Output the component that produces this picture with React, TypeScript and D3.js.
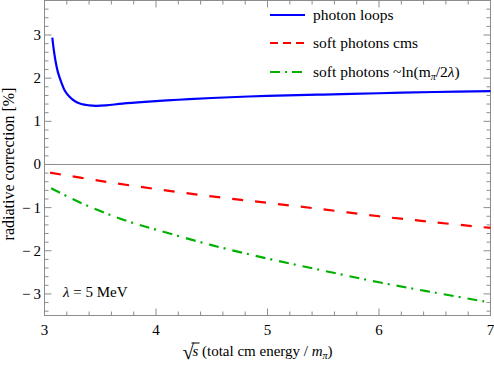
import React from "react";
import * as d3 from "d3";

const loopX = [3.07, 3.08, 3.1, 3.12, 3.15, 3.18, 3.22, 3.27, 3.33, 3.4, 3.46, 3.55, 3.7, 3.9, 4.2, 4.5, 5, 5.5, 6, 6.5, 7];
const loopY = [2.94, 2.72, 2.38, 2.14, 1.91, 1.72, 1.58, 1.47, 1.4, 1.37, 1.36, 1.37, 1.41, 1.45, 1.5, 1.54, 1.59, 1.62, 1.65, 1.68, 1.7];

const softX = [3.05, 3.5, 4, 4.5, 5, 5.5, 6, 6.5, 7];
const softY = [-0.19, -0.38, -0.57, -0.74, -0.89, -1.04, -1.2, -1.34, -1.47];

const lnX = [3.06, 3.25, 3.5, 3.75, 4, 4.5, 5, 5.5, 6, 6.5, 7];
const lnY = [-0.55, -0.8, -1.08, -1.32, -1.51, -1.87, -2.18, -2.46, -2.73, -2.97, -3.2];

const xTicks = [3, 4, 5, 6, 7];
const yTicks = [-3, -2, -1, 0, 1, 2, 3];

const W = 494, H = 368;
const L = 44.5, R = 490.5, T = 0.5, B = 315.5;
const FONT = "Liberation Serif, DejaVu Serif, serif";
const AX = "#8c8c8c";

export default function App() {
  const x = d3.scaleLinear().domain([3, 7]).range([L, R]);
  const y = d3.scaleLinear().domain([-3.5, 3.8]).range([B, T]);
  const line = (xs: number[], ys: number[]) =>
    d3.line<number>().x((_, i) => x(xs[i])).y((d) => y(d)).curve(d3.curveCatmullRom)(ys) || "";

  const xMinor = d3.range(3, 7.0001, 0.2).map((v) => +v.toFixed(2)).filter((v) => !xTicks.includes(v));
  const yMinor = d3.range(-3.4, 3.8001, 0.2).map((v) => +v.toFixed(2)).filter((v) => !yTicks.includes(v));

  const series = [
    { xs: loopX, ys: loopY, color: "#0000ff", dash: "" },
    { xs: softX, ys: softY, color: "#ff0000", dash: "11,12" },
    { xs: lnX, ys: lnY, color: "#00b000", dash: "10,5,2,7" },
  ];
  const legY = [15, 43, 72];
  const LF = 15.5;

  return (
    <svg width={W} height={H} style={{ position: "absolute", left: 0, top: 0, fontFamily: FONT }}>
      <rect width={W} height={H} fill="#fff" />
      <line x1={L} x2={R} y1={y(0)} y2={y(0)} stroke={AX} strokeWidth={1} />
      <rect x={L} y={T} width={R - L} height={B - T} fill="none" stroke={AX} strokeWidth={1} />
      {xTicks.map((v) => (
        <g key={"xt" + v}>
          <line x1={x(v)} x2={x(v)} y1={B} y2={B - 7} stroke={AX} />
          <line x1={x(v)} x2={x(v)} y1={T} y2={T + 7} stroke={AX} />
          <text x={x(v)} y={335} fontSize={15} textAnchor="middle">{v}</text>
        </g>
      ))}
      {xMinor.map((v) => (
        <g key={"xm" + v}>
          <line x1={x(v)} x2={x(v)} y1={B} y2={B - 4} stroke={AX} />
          <line x1={x(v)} x2={x(v)} y1={T} y2={T + 4} stroke={AX} />
        </g>
      ))}
      {yTicks.map((v) => (
        <g key={"yt" + v}>
          <line x1={L} x2={L + 7} y1={y(v)} y2={y(v)} stroke={AX} />
          <line x1={R} x2={R - 7} y1={y(v)} y2={y(v)} stroke={AX} />
          <text x={41} y={y(v) + 5} fontSize={15} textAnchor="end">
            {v < 0 ? "\u2212\u2009" + Math.abs(v) : String(v)}
          </text>
        </g>
      ))}
      {yMinor.map((v) => (
        <g key={"ym" + v}>
          <line x1={L} x2={L + 4} y1={y(v)} y2={y(v)} stroke={AX} />
          <line x1={R} x2={R - 4} y1={y(v)} y2={y(v)} stroke={AX} />
        </g>
      ))}
      {series.map((s, i) => (
        <path key={"s" + i} d={line(s.xs, s.ys)} fill="none" stroke={s.color} strokeWidth={2.2}
          strokeDasharray={s.dash || undefined} />
      ))}
      {series.map((s, i) => (
        <line key={"ll" + i} x1={270} x2={305} y1={legY[i]} y2={legY[i]} stroke={s.color} strokeWidth={2.2}
          strokeDasharray={s.dash ? (i === 1 ? "8,5" : "10,5,2,5") : undefined} />
      ))}
      <text x={313} y={legY[0] + 5} fontSize={LF}>photon loops</text>
      <text x={313} y={legY[1] + 5} fontSize={LF}>soft photons cms</text>
      <text x={313} y={legY[2] + 5} fontSize={LF}>
        soft photons ~ln(m<tspan fontSize={10} fontStyle="italic" dy={3}>π</tspan>
        <tspan dy={-3}>/2</tspan><tspan fontStyle="italic">λ</tspan>)
      </text>
      <text x={63} y={297} fontSize={15}>
        <tspan fontStyle="italic">λ</tspan> = 5 MeV
      </text>
      <text transform={`translate(14,${(T + B) / 2 + 6}) rotate(-90)`} fontSize={16} textAnchor="middle">
        radiative correction [%]
      </text>
      <text x={182.5} y={358.5} fontSize={21} fontWeight="bold">√</text>
      <text x={192.5} y={356} fontSize={15} fontStyle="italic">s</text>
      <line x1={191.5} x2={199.5} y1={343} y2={343} stroke="#000" strokeWidth={1} />
      <text x={202} y={356} fontSize={15}>
        (total cm energy / <tspan fontStyle="italic">m</tspan>
        <tspan fontStyle="italic" fontSize={10} dy={3}>π</tspan>
        <tspan dy={-3}>)</tspan>
      </text>
    </svg>
  );
}
